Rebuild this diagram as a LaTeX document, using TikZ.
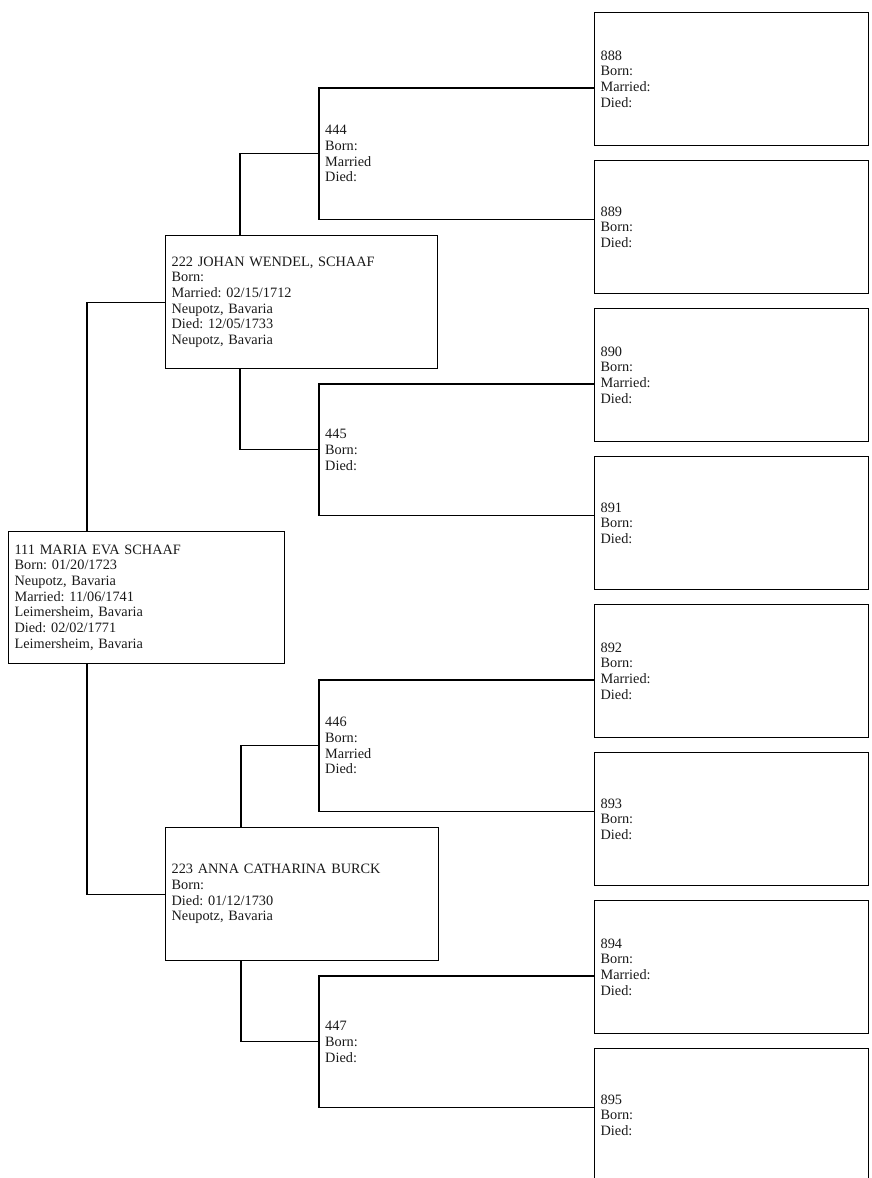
\documentclass[tikz,border=0pt]{standalone}
\usepackage{fontspec}
\setmainfont{Liberation Serif}
\usepackage{tikz}
\usetikzlibrary{positioning}
\frenchspacing

\tikzset{
    pbox/.style={draw,rectangle,anchor=north west,align=left,inner xsep=6pt,inner ysep=0pt,minimum height=133pt,line width=1.2pt,font=\fontsize{14.3}{15.7}\selectfont,text=black!90},
    gbox/.style={rectangle,anchor=north west,align=left,inner xsep=6pt,inner ysep=0pt,minimum height=131pt,text width=90pt,font=\fontsize{14.3}{15.7}\selectfont,text=black!90},
    link/.style={line width=1.2pt}
}

\begin{document}
\begin{tikzpicture}[x=1pt,y=-1pt]
        \useasboundingbox (0,0) rectangle (871,1178);
        \clip (0,0) rectangle (871,1178);

        % 第一代
        \node[pbox,text width=264pt,minimum height=132pt] (p111) at (8,531) {111 MARIA EVA SCHAAF\\Born: 01/20/1723\\Neupotz, Bavaria\\Married: 11/06/1741\\Leimersheim, Bavaria\\Died: 02/02/1771\\Leimersheim, Bavaria};

        % 第二代
        \node[pbox,text width=260pt] (p222) at (165,235) {222 JOHAN WENDEL, SCHAAF\\Born:\\Married: 02/15/1712\\Neupotz, Bavaria\\Died: 12/05/1733\\Neupotz, Bavaria};
        \node[pbox,text width=261pt] (p223) at (165,827) {223 ANNA CATHARINA BURCK\\Born:\\Died: 01/12/1730\\Neupotz, Bavaria};

        % 第三代
        \node[gbox] (g444) at (319,88) {444\\Born:\\Married\\Died:};
        \node[gbox] (g445) at (319,384) {445\\Born:\\Died:};
        \node[gbox] (g446) at (319,680) {446\\Born:\\Married\\Died:};
        \node[gbox] (g447) at (319,976) {447\\Born:\\Died:};

        % 第四代
        \node[pbox,text width=262pt] (p888) at (594,12) {888\\Born:\\Married:\\Died:};
        \node[pbox,text width=262pt] (p889) at (594,160) {889\\Born:\\Died:};
        \node[pbox,text width=262pt] (p890) at (594,308) {890\\Born:\\Married:\\Died:};
        \node[pbox,text width=262pt] (p891) at (594,456) {891\\Born:\\Died:};
        \node[pbox,text width=262pt] (p892) at (594,604) {892\\Born:\\Married:\\Died:};
        \node[pbox,text width=262pt] (p893) at (594,752) {893\\Born:\\Died:};
        \node[pbox,text width=262pt] (p894) at (594,900) {894\\Born:\\Married:\\Died:};
        \node[pbox,text width=262pt] (p895) at (594,1048) {895\\Born:\\Died:};

        % 连接线
        \draw[link] ([xshift=79pt]p111.north west) |- (p222.west);
        \draw[link] ([xshift=79pt]p111.south west) |- (p223.west);
        \draw[link] ([xshift=75pt]p222.north west) |- (g444.west);
        \draw[link] ([xshift=75pt]p222.south west) |- (g445.west);
        \draw[link] ([xshift=76pt]p223.north west) |- (g446.west);
        \draw[link] ([xshift=76pt]p223.south west) |- (g447.west);

        \draw[link] (g444.north west -| p888.west) -- (g444.north west) -- (g444.south west) -- (g444.south west -| p889.west);
        \draw[link] (g445.north west -| p890.west) -- (g445.north west) -- (g445.south west) -- (g445.south west -| p891.west);
        \draw[link] (g446.north west -| p892.west) -- (g446.north west) -- (g446.south west) -- (g446.south west -| p893.west);
        \draw[link] (g447.north west -| p894.west) -- (g447.north west) -- (g447.south west) -- (g447.south west -| p895.west);
    \end{tikzpicture}
\end{document}
